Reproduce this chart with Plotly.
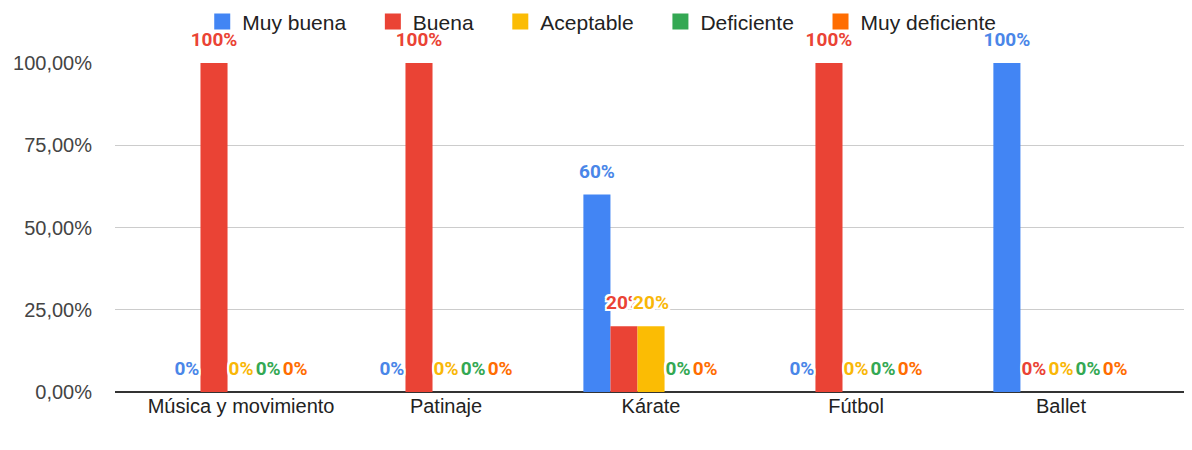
import plotly.graph_objects as go

categories = ["Música y movimiento", "Patinaje", "Kárate", "Fútbol", "Ballet"]
series_names = ["Muy buena", "Buena", "Aceptable", "Deficiente", "Muy deficiente"]
muy_buena = [0.0, 0.0, 0.6, 0.0, 1.0]
buena = [1.0, 1.0, 0.2, 1.0, 0.0]
aceptable = [0.0, 0.0, 0.2, 0.0, 0.0]
deficiente = [0.0, 0.0, 0.0, 0.0, 0.0]
muy_deficiente = [0.0, 0.0, 0.0, 0.0, 0.0]
y_ticks = [0, 0.25, 0.5, 0.75, 1.0]

values = [muy_buena, buena, aceptable, deficiente, muy_deficiente]
colors = ["#4285F4", "#EA4335", "#FBBC04", "#34A853", "#FF6D01"]
label_colors = ["#4A86E8", "#EA4335", "#F9B707", "#34A853", "#FF6D01"]

outline = ("-2px -2px 0 #fff, 2px -2px 0 #fff, -2px 2px 0 #fff, 2px 2px 0 #fff, "
           "0 2px 0 #fff, 0 -2px 0 #fff, 2px 0 0 #fff, -2px 0 0 #fff")

fig = go.Figure()
for name, vals, col in zip(series_names, values, colors):
    fig.add_trace(go.Bar(
        name=name, x=categories, y=vals, showlegend=False,
        marker=dict(color=col, line=dict(width=0)),
        hoverinfo="skip",
    ))
for name, vals, lcol in zip(series_names, values, label_colors):
    fig.add_trace(go.Scatter(
        name=name, x=categories, y=vals, showlegend=False,
        mode="markers+text",
        marker=dict(size=18, color="rgba(0,0,0,0)"),
        text=[f"{round(v*100)}%" for v in vals],
        textposition="top center",
        textfont=dict(family="Roboto, Arial, sans-serif", size=19, color=lcol,
                      weight="bold", shadow=outline),
        cliponaxis=False,
    ))
for name, col in zip(series_names, colors):
    fig.add_trace(go.Scatter(
        name=name + "\u00a0\u00a0\u00a0\u2009", x=[None], y=[None], mode="markers",
        marker=dict(symbol="square", size=18, color=col),
        showlegend=True, xaxis="x2", yaxis="y2",
    ))

fig.update_layout(
    width=1184, height=442,
    barmode="group",
    bargap=0.34, bargroupgap=0.0,
    scattermode="group", scattergap=0.34,
    separators=",.",
    paper_bgcolor="white", plot_bgcolor="white",
    margin=dict(l=107, r=0, t=55, b=58, autoexpand=False),
    font=dict(family="Arial, Liberation Sans, sans-serif", size=20, color="#222222"),
    legend=dict(orientation="h", x=0.081, xanchor="left", y=1.125, yanchor="middle",
                font=dict(size=21, color="#222222"), itemsizing="trace",
                tracegroupgap=0, bgcolor="rgba(0,0,0,0)"),
    xaxis=dict(range=[-0.615, 4.639], showgrid=False, ticks="", showline=False,
               tickfont=dict(size=20, color="#222222")),
    yaxis=dict(range=[0, 1.0], tickvals=y_ticks, tickformat=".2%",
               showgrid=True, gridcolor="#CCCCCC", gridwidth=1,
               zeroline=True, zerolinecolor="#333333", zerolinewidth=1.5,
               ticks="", ticklabelstandoff=22,
               tickfont=dict(size=20, color="#444444")),
    xaxis2=dict(overlaying="x", visible=False, range=[0, 1]),
    yaxis2=dict(overlaying="y", visible=False, range=[0, 1]),
)

fig.write_html("out.html")
